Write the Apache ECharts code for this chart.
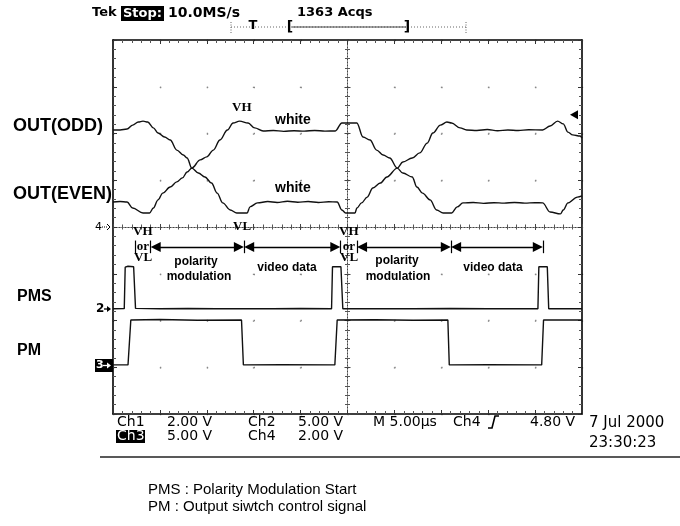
<!DOCTYPE html>
<html><head><meta charset="utf-8">
<script src="https://cdn.jsdelivr.net/npm/echarts@6/dist/echarts.min.js"></script>
<style>html,body{margin:0;padding:0;background:#fff}#c{width:680px;height:526px}</style>
</head><body><div id="c"></div>
<script>
// Time in µs from the left graticule edge (5 µs/div), values in volts.
const timePerDiv = 5;
const voltsPerDiv = [2, 5, 5, 2];          // Ch1, Ch2, Ch3, Ch4
const groundDiv   = [0, -1.75, -2.95, 0];  // ground marker positions (divisions)
const triggerLevel = 4.80;                 // Ch4 trigger level, volts

// Ch1: OUT(ODD)
const outOdd = [
[0,4.15],[0.75,4.15],[1.5,4.19],[2.1,4.36],[2.7,4.49],[3.2,4.53],[3.7,4.49],[4.3,4.24],[4.8,4.02],[5.5,3.85],
[6.1,3.72],[6.8,3.29],[7.5,3.08],[7.9,2.95],[8.4,2.52],[9.1,2.31],[9.8,2.14],[10.5,1.88],[11.1,1.45],[11.7,1.03],
[12.5,0.73],[13.2,0.6],[14.3,0.6],[14.6,0.86],[15.4,1.03],[16.5,1.09],[17.5,1.05],[18.6,1.1],[19.7,1.06],[20.8,1.09],
[21.9,1.05],[23.0,1.08],[23.9,1.07],[24.4,0.73],[24.8,0.6],[25.8,0.6],[26.0,0.81],[26.5,1.03],[27.1,1.28],[27.7,1.67],
[28.5,1.88],[29.2,2.14],[30.3,2.52],[30.9,2.78],[31.9,2.95],[32.7,3.17],[33.5,3.59],[34.1,4.02],[34.9,4.36],[35.6,4.49],
[36.1,4.45],[37.0,4.24],[37.7,4.15],[38.8,4.13],[39.9,4.17],[41.0,4.12],[42.1,4.15],[43.2,4.13],[44.3,4.16],[45.8,4.15],
[46.6,4.32],[47.4,4.53],[48.0,4.41],[48.5,4.06],[49.0,3.94],[49.8,3.89],[50,3.8]
];
// Ch4: OUT(EVEN)
const outEven = [
[0,1.07],[0.75,1.09],[1.5,1.07],[2.1,0.81],[3.2,0.6],[3.9,0.6],[4.3,0.81],[4.8,1.16],[5.3,1.45],[6.1,1.71],
[6.8,1.93],[7.4,2.1],[7.9,2.35],[8.4,2.52],[9.3,2.87],[10.0,3.0],[10.7,3.29],[11.4,3.72],[12.2,4.15],[12.8,4.45],
[13.5,4.53],[14.4,4.45],[15.1,4.24],[16.0,4.11],[17.1,4.13],[18.2,4.09],[19.3,4.12],[20.4,4.1],[21.5,4.13],[22.6,4.1],
[23.7,4.11],[24.4,4.45],[26.0,4.45],[26.65,3.85],[27.4,3.72],[28.1,3.29],[28.8,3.08],[29.5,2.95],[30.3,2.52],[30.9,2.31],
[31.9,2.14],[32.4,1.71],[33.0,1.45],[33.8,1.16],[34.5,0.73],[35.2,0.6],[36.1,0.6],[36.7,0.86],[37.3,1.03],[38.4,1.05],
[39.5,1.01],[40.6,1.04],[41.7,1.02],[42.8,1.05],[43.9,1.02],[45.0,1.04],[45.8,1.03],[46.6,0.64],[47.7,0.56],[48.0,0.73],
[48.5,1.03],[49.5,1.28],[50,1.33]
];
// Ch2: PMS
const pms = [
[0,0],[1.2,0.02],[1.3,4.45],[1.6,4.55],[2.2,4.5],[2.4,0.05],[5,0],[8,0.03],[11,0],[14,0.02],[17,0],[20,0.03],
[23.3,0],[23.4,4.5],[24.3,4.5],[24.5,0],[28,0.02],[32,0],[36,0.03],[40,0],[43,0.02],[45.3,0],[45.4,4.5],[46.3,4.5],
[46.45,0],[50,0]
];
// Ch3: PM
const pm = [
[0,0],[1.6,0],[1.9,4.8],[5,4.85],[9,4.78],[13.7,4.8],[13.9,0],[18,0.03],[23.65,0],[23.9,4.8],[28,4.83],[32,4.78],
[35.7,4.8],[35.85,0],[40,0.03],[45.7,0],[45.9,4.8],[50,4.8]
];
// annotation: segment boundaries (µs) of "VH or VL" / polarity modulation / video data
const bracketBars = [2.4, 4.0, 13.97, 24.25, 26.0, 36.03, 45.84];
const arrowSpans = [[4.0,13.97],[13.97,24.25],[26.0,36.03],[36.03,45.84]];
const arrowLevel = -0.43;

const toDiv = (pts, ch) => pts.map(p => [p[0], groundDiv[ch] + p[1] / voltsPerDiv[ch]]);

const chart = echarts.init(document.getElementById('c'), null, {renderer: 'canvas'});
const G = {left: 113, top: 40, width: 469, height: 374};
const frameAxis = (extra) => Object.assign({
  type: 'value', axisLabel: {show: false},
  axisLine: {show: true, onZero: false, lineStyle: {color: '#000', width: 1.6}},
  axisTick: {show: true, inside: true, length: 4, lineStyle: {color: '#333'}},
  minorTick: {show: true, splitNumber: 5, length: 3, lineStyle: {color: '#555'}},
  splitLine: {show: false}
}, extra);
const centerAxis = (extra) => Object.assign({
  type: 'value', axisLabel: {show: false},
  axisLine: {show: true, onZero: true, lineStyle: {color: '#444', width: 1, type: [1, 2]}},
  axisTick: {show: true, inside: false, length: 3, lineStyle: {color: '#444'}},
  minorTick: {show: true, splitNumber: 5, length: 2.5, lineStyle: {color: '#555'}},
  splitLine: {show: false}
}, extra);

const traceStyle = {color: '#111', width: 1.4};
const T = (text, x, y, font, opts) => ({
  type: 'text', z: 50,
  style: Object.assign({text, x, y, font, fill: '#000', textAlign: 'left', align: 'left',
    textVerticalAlign: 'middle', verticalAlign: 'middle'}, opts || {})
});
const C = (text, x, y, font, opts) => T(text, x, y, font, Object.assign({textAlign: 'center', align: 'center'}, opts || {}));
const L = (x1, y1, x2, y2, stroke, w, dash) => ({type: 'line', z: 50,
  shape: {x1, y1, x2, y2}, style: {stroke, lineWidth: w, lineDash: dash || null}});
const P = (points, stroke, w, fill) => ({type: 'polyline', z: 51, shape: {points},
  style: {stroke, lineWidth: w, fill: fill || null}});
const Tri = (points, fill) => ({type: 'polygon', z: 51, shape: {points}, style: {fill}});

const serifB = 'bold 13px "Liberation Serif"';
const sansB12 = 'bold 12px "Liberation Sans"';
const ro = '14px "DejaVu Sans"';

const option = {
  animation: false,
  backgroundColor: '#fff',
  grid: [Object.assign({}, G), Object.assign({}, G), Object.assign({}, G)],
  xAxis: [
    frameAxis({gridIndex: 0, position: 'bottom', min: 0, max: 50, interval: timePerDiv,
      splitLine: {show: true, lineStyle: {color: '#888', width: 1.3, type: [1.3, 45.45]}}}),
    frameAxis({gridIndex: 0, position: 'top', min: 0, max: 50, interval: timePerDiv}),
    centerAxis({gridIndex: 1, position: 'bottom', min: -5, max: 5, interval: 1}),
    centerAxis({gridIndex: 2, position: 'top', min: -5, max: 5, interval: 1})
  ],
  yAxis: [
    frameAxis({gridIndex: 0, position: 'left', min: -4, max: 4, interval: 1,
      splitLine: {show: true, lineStyle: {color: '#888', width: 1.3, type: [1.3, 45.6]}}}),
    frameAxis({gridIndex: 0, position: 'right', min: -4, max: 4, interval: 1}),
    centerAxis({gridIndex: 1, position: 'left', min: -4, max: 4, interval: 1}),
    centerAxis({gridIndex: 2, position: 'right', min: -4, max: 4, interval: 1})
  ],
  series: [
    {name: 'OUT(ODD)', type: 'line', xAxisIndex: 0, yAxisIndex: 0, data: toDiv(outOdd, 0),
      showSymbol: false, symbol: 'none', smooth: 0.35, smoothMonotone: 'x', lineStyle: traceStyle, z: 5},
    {name: 'OUT(EVEN)', type: 'line', xAxisIndex: 0, yAxisIndex: 0, data: toDiv(outEven, 3),
      showSymbol: false, symbol: 'none', smooth: 0.35, smoothMonotone: 'x', lineStyle: traceStyle, z: 5,
      markPoint: {symbol: 'triangle', symbolRotate: 90, symbolSize: [9, 8], symbolOffset: [-8, 0],
        itemStyle: {color: '#000'}, label: {show: false},
        data: [{coord: [50, groundDiv[3] + triggerLevel / voltsPerDiv[3]]}]}},
    {name: 'PMS', type: 'line', xAxisIndex: 0, yAxisIndex: 0, data: toDiv(pms, 1),
      showSymbol: false, symbol: 'none', lineStyle: traceStyle, z: 5,
      markLine: {silent: true, symbol: ['triangle', 'triangle'], symbolSize: 10,
        lineStyle: {color: '#000', width: 1.4, type: 'solid'}, label: {show: false},
        data: arrowSpans.map(s => [{coord: [s[0] + 0.55, arrowLevel]}, {coord: [s[1] - 0.55, arrowLevel]}])}},
    {name: 'PM', type: 'line', xAxisIndex: 0, yAxisIndex: 0, data: toDiv(pm, 2),
      showSymbol: false, symbol: 'none', lineStyle: traceStyle, z: 5,
      markLine: {silent: true, symbol: ['none', 'none'],
        lineStyle: {color: '#000', width: 1.2, type: 'solid'}, label: {show: false},
        data: bracketBars.map(b => [{coord: [b, -0.29]}, {coord: [b, -0.56]}])}}
  ],
  graphic: [
    // header
    T('Tek', 92, 13, 'bold 13px "DejaVu Sans"'),
    {type: 'rect', z: 49, shape: {x: 121, y: 6, width: 43, height: 15}, style: {fill: '#000'}},
    C('Stop:', 142.5, 13.5, 'bold 13px "DejaVu Sans"', {fill: '#fff'}),
    T('10.0MS/s', 168, 13, 'bold 14px "DejaVu Sans"'),
    T('1363 Acqs', 297, 13, 'bold 13px "DejaVu Sans"'),
    L(231, 27, 466, 27, '#666', 1, [1, 2]),
    L(292, 27, 406, 27, '#444', 1),
    L(231, 22, 231, 33, '#666', 1, [1, 1.5]),
    L(466, 22, 466, 33, '#666', 1, [1, 1.5]),
    C('T', 253, 26, 'bold 13px "DejaVu Sans"'),
    C('[', 290, 27, 'bold 14px "DejaVu Sans"'),
    C(']', 407, 27, 'bold 14px "DejaVu Sans"'),
    // left labels
    T('OUT(ODD)', 13, 126, 'bold 18px "Liberation Sans"'),
    T('OUT(EVEN)', 13, 194, 'bold 18px "Liberation Sans"'),
    T('PMS', 17, 297, 'bold 16px "Liberation Sans"'),
    T('PM', 17, 351, 'bold 16px "Liberation Sans"'),
    // channel ground markers
    T('4', 95, 227, '11px "DejaVu Sans"'),
    L(102, 227, 107, 227, '#000', 1, [1, 1]),
    P([[107, 224], [110, 227], [107, 230]], '#000', 1),
    T('2', 96, 309, 'bold 12px "DejaVu Sans"'),
    L(104, 309, 110, 309, '#000', 1.3),
    Tri([[107, 306], [111, 309], [107, 312]], '#000'),
    {type: 'rect', z: 49, shape: {x: 95, y: 359, width: 18, height: 13}, style: {fill: '#000'}},
    T('3', 96, 365.5, 'bold 11px "DejaVu Sans"', {fill: '#fff'}),
    L(103, 365.5, 109, 365.5, '#fff', 1.3),
    Tri([[107, 362.5], [111, 365.5], [107, 368.5]], '#fff'),
    // in-plot annotations
    T('VH', 232, 108, serifB),
    T('white', 275, 120, 'bold 14px "Liberation Sans"'),
    T('white', 275, 188, 'bold 14px "Liberation Sans"'),
    T('VL', 233, 227, serifB),
    T('VH', 133, 232, serifB),
    C('or', 143, 247, serifB),
    T('VL', 134, 258, serifB),
    T('VH', 339, 232, serifB),
    C('or', 349, 247, serifB),
    T('VL', 340, 258, serifB),
    C('polarity', 196, 262, sansB12),
    C('modulation', 199, 277, sansB12),
    C('video data', 287, 268, sansB12),
    C('polarity', 397, 261, sansB12),
    C('modulation', 398, 277, sansB12),
    C('video data', 493, 268, sansB12),
    // readouts
    T('Ch1', 117, 422, ro),
    T('2.00 V', 167, 422, ro),
    T('Ch2', 248, 422, ro),
    T('5.00 V', 298, 422, ro),
    T('M 5.00µs', 373, 422, ro),
    T('Ch4', 453, 422, ro),
    P([[488, 428], [492, 428], [495, 416], [499, 416]], '#000', 1.6),
    T('4.80 V', 530, 422, ro),
    {type: 'rect', z: 49, shape: {x: 116, y: 430, width: 29, height: 13}, style: {fill: '#000'}},
    T('Ch3', 117, 436.5, ro, {fill: '#fff'}),
    T('5.00 V', 167, 436, ro),
    T('Ch4', 248, 436, ro),
    T('2.00 V', 298, 436, ro),
    T('7 Jul 2000', 589, 423, '15px "DejaVu Sans"'),
    T('23:30:23', 589, 443, '15px "DejaVu Sans"'),
    L(100, 457, 680, 457, '#222', 1.5),
    // caption
    T('PMS : Polarity Modulation Start', 148, 490, '15px "Liberation Sans"'),
    T('PM : Output siwtch control signal', 148, 507, '15px "Liberation Sans"')
  ]
};
chart.setOption(option);
</script></body></html>
